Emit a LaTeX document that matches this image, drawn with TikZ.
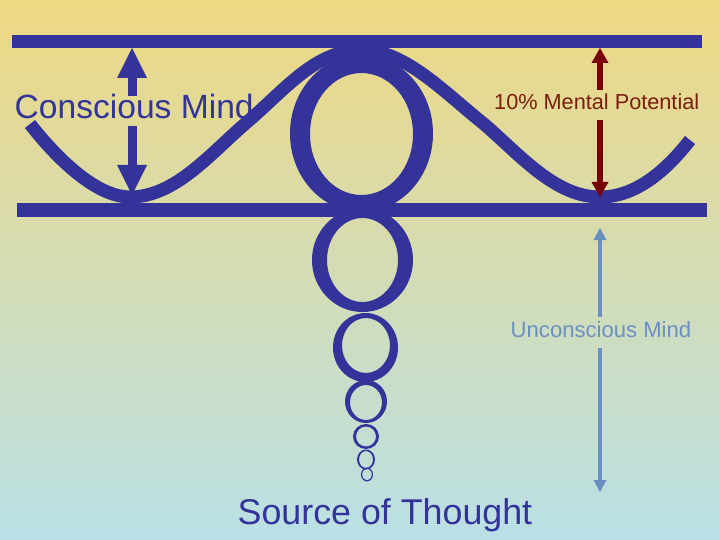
\documentclass[tikz,border=0pt]{standalone}
\usepackage{fontspec}
\setmainfont{Liberation Sans}
\usetikzlibrary{arrows.meta}
\definecolor{navy}{RGB}{51,51,153}
\definecolor{maroonA}{RGB}{120,0,0}
\definecolor{maroonT}{RGB}{122,30,14}
\definecolor{steel}{RGB}{107,143,194}
\definecolor{bgtop}{RGB}{238,216,130}
\definecolor{bgbot}{RGB}{186,224,230}
\begin{document}
\begin{tikzpicture}[x=1pt,y=-1pt,
  bar/.style={fill=navy},
  wave/.style={draw=navy,line width=13pt},
  ring/.style={fill=navy,even odd rule},
  bigarrow/.style={draw=navy,fill=navy,line width=9pt,-{Triangle[length=30pt,width=30pt,line width=0pt]}},
  redarrow/.style={draw=maroonA,fill=maroonA,line width=6.5pt,-{Triangle[length=15pt,width=17pt,line width=0pt]}},
  bluearrow/.style={draw=steel,fill=steel,line width=4.7pt,-{Triangle[length=12pt,width=13pt,line width=0pt]}},
  lbl/.style={inner sep=0pt,anchor=base west}]
\useasboundingbox (0,0) rectangle (720,540);
\shade[top color=bgtop,bottom color=bgbot] (0,0) rectangle (720,540);
% bars
\fill[bar] (12,35) rectangle (702,48);
\fill[bar] (17,203) rectangle (707,217);
% wave
\draw[wave] (30,124) .. controls (55,156) and (95,197) .. (130,197)
  .. controls (175,197) and (210,154) .. (246,123)
  .. controls (285,90) and (315,50) .. (362,50)
  .. controls (405,50) and (445,93) .. (484,124)
  .. controls (520,155) and (555,197) .. (600,197)
  .. controls (635,197) and (665,172) .. (690,140);
% rings
\fill[ring] (361.5,133.5) ellipse [x radius=71.5,y radius=78.5] (361.5,134) ellipse [x radius=51.5,y radius=61];
\fill[ring] (362.5,260) ellipse [x radius=50.5,y radius=52] (362.5,260) ellipse [x radius=35.5,y radius=42];
\fill[ring] (365.5,347.5) ellipse [x radius=32.5,y radius=34.5] (366,345.5) ellipse [x radius=24,y radius=27.5];
\fill[ring] (366,401.5) ellipse [x radius=21,y radius=21.5] (366,402.5) ellipse [x radius=16,y radius=17.5];
\fill[ring] (366,436.5) ellipse [x radius=13,y radius=12.5] (366,436.5) ellipse [x radius=10,y radius=10];
\fill[ring] (366,459.5) ellipse [x radius=9,y radius=10] (366,459.5) ellipse [x radius=7,y radius=8.5];
\fill[ring] (367,474.5) ellipse [x radius=6,y radius=7] (367,474.5) ellipse [x radius=4.8,y radius=6];
% labels
\node[lbl,text=navy,font=\fontsize{33.6}{40}\selectfont] (cm) at (14.5,119) {Conscious Mind};
\node[lbl,text=maroonT,font=\fontsize{21.7}{26}\selectfont] (mp) at (494,110) {10\% Mental Potential};
\node[lbl,text=steel,font=\fontsize{22.1}{26}\selectfont] (um) at (510.5,337) {Unconscious Mind};
\node[lbl,text=navy,font=\fontsize{35.8}{43}\selectfont] (st) at (237.5,524) {Source of Thought};
% arrow ends
\coordinate (cmTop) at (132,48);
\coordinate (cmBot) at (132,195);
\coordinate (cmA) at (132,96);
\coordinate (cmB) at (132,126);
\coordinate (mpTop) at (600,48);
\coordinate (mpBot) at (600,197);
\coordinate (mpA) at (600,90);
\coordinate (mpB) at (600,120);
\coordinate (umTop) at (600,228);
\coordinate (umBot) at (600,492);
\coordinate (umA) at (600,317);
\coordinate (umB) at (600,348);
\draw[bigarrow] (cmA) -- (cmTop);
\draw[bigarrow] (cmB) -- (cmBot);
\draw[redarrow] (mpA) -- (mpTop);
\draw[redarrow] (mpB) -- (mpBot);
\draw[bluearrow] (umA) -- (umTop);
\draw[bluearrow] (umB) -- (umBot);
\end{tikzpicture}
\end{document}
